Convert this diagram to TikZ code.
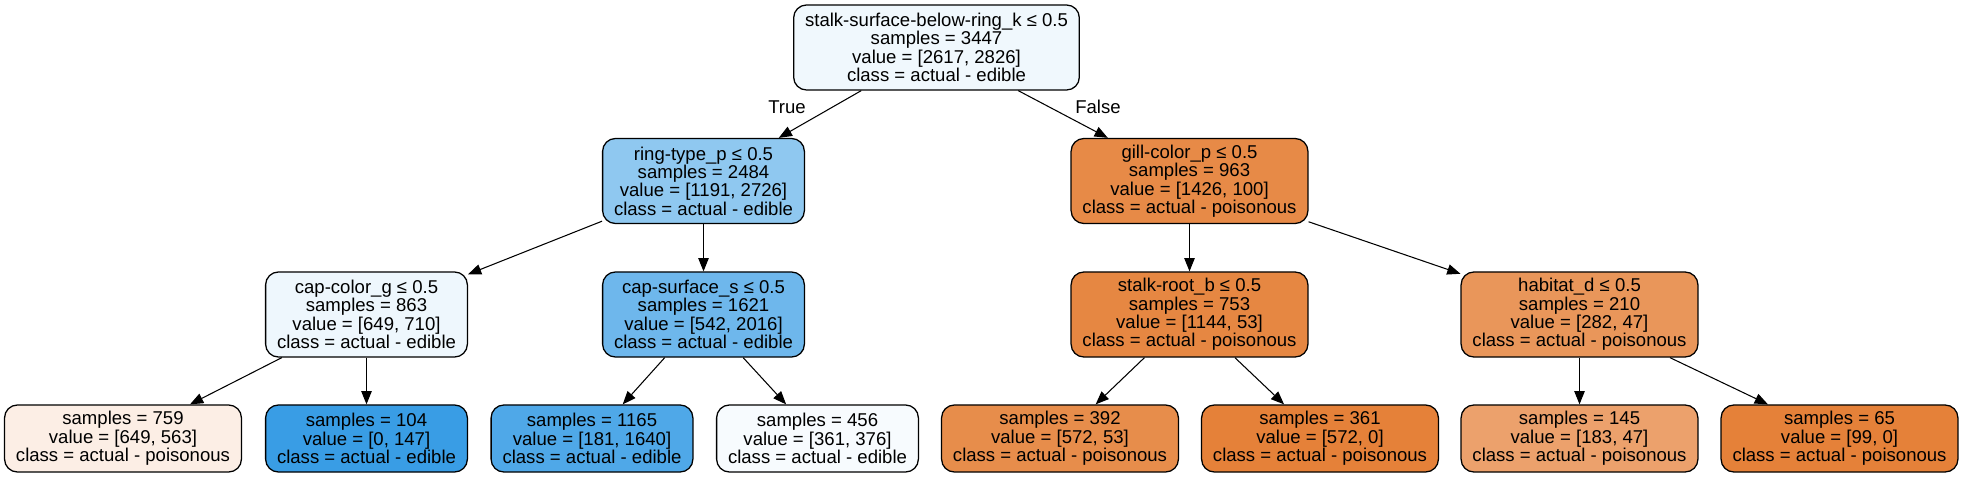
\documentclass[tikz,border=0pt]{standalone}
\usepackage{fontspec}
\setmainfont{Liberation Sans}
\usepackage{tikz}
\usetikzlibrary{positioning,arrows.meta}
\definecolor{rootfill}{RGB}{240,248,253}
\definecolor{ringfill}{RGB}{143,200,240}
\definecolor{gillfill}{RGB}{231,138,71}
\definecolor{capcolorfill}{RGB}{238,247,253}
\definecolor{capsurfacefill}{RGB}{110,183,236}
\definecolor{stalkrootfill}{RGB}{230,135,66}
\definecolor{habitatfill}{RGB}{233,150,90}
\definecolor{leafonefill}{RGB}{252,238,229}
\definecolor{leaftwofill}{RGB}{57,157,229}
\definecolor{leafthreefill}{RGB}{79,168,232}
\definecolor{leaffourfill}{RGB}{247,251,254}
\definecolor{leaffivefill}{RGB}{231,141,75}
\definecolor{leafsixfill}{RGB}{229,129,57}
\definecolor{leafsevenfill}{RGB}{236,161,108}
\definecolor{leafeightfill}{RGB}{229,129,57}
\tikzset {
split/.style={shape=rectangle,draw,rounded corners=3.2mm,line width=0.9pt,align=center,inner xsep=2.85mm,minimum height=21.25mm,font=\fontsize{13.2}{13.1}\selectfont},
leaf/.style={split,minimum height=16.75mm},
answer/.style={font=\fontsize{13.2}{13.1}\selectfont}
}

\begin{document}
\begin{tikzpicture}
[>={Triangle[length=3.3mm,width=2.6mm]},x=0.25mm,y=-0.25mm,line width=0.75pt]
\useasboundingbox (0,0) rectangle (1963,477);
\node[split,fill=rootfill] (root split) at (936.5,47.5) {stalk-surface-below-ring\_k ≤ 0.5\\samples = 3447\\value = [2617, 2826]\\class = actual - edible};
\node[split,fill=ringfill] (ring type split) at (703.5,181) {ring-type\_p ≤ 0.5\\samples = 2484\\value = [1191, 2726]\\class = actual - edible};
\node[split,fill=gillfill] (gill color split) at (1189.5,181) {gill-color\_p ≤ 0.5\\samples = 963\\value = [1426, 100]\\class = actual - poisonous};
\node[split,fill=capcolorfill] (cap color split) at (366.5,314.5) {cap-color\_g ≤ 0.5\\samples = 863\\value = [649, 710]\\class = actual - edible};
\node[split,fill=capsurfacefill] (cap surface split) at (703.5,314.5) {cap-surface\_s ≤ 0.5\\samples = 1621\\value = [542, 2016]\\class = actual - edible};
\node[split,fill=stalkrootfill] (stalk root split) at (1189.5,314.5) {stalk-root\_b ≤ 0.5\\samples = 753\\value = [1144, 53]\\class = actual - poisonous};
\node[split,fill=habitatfill] (habitat split) at (1579.5,314.5) {habitat\_d ≤ 0.5\\samples = 210\\value = [282, 47]\\class = actual - poisonous};
\node[leaf,fill=leafonefill] (leaf 759) at (123,438.5) {samples = 759\\value = [649, 563]\\class = actual - poisonous};
\node[leaf,fill=leaftwofill] (leaf 104) at (366.5,438.5) {samples = 104\\value = [0, 147]\\class = actual - edible};
\node[leaf,fill=leafthreefill] (leaf 1165) at (592,438.5) {samples = 1165\\value = [181, 1640]\\class = actual - edible};
\node[leaf,fill=leaffourfill] (leaf 456) at (817.5,438.5) {samples = 456\\value = [361, 376]\\class = actual - edible};
\node[leaf,fill=leaffivefill] (leaf 392) at (1060,438.5) {samples = 392\\value = [572, 53]\\class = actual - poisonous};
\node[leaf,fill=leafsixfill] (leaf 361) at (1320,438.5) {samples = 361\\value = [572, 0]\\class = actual - poisonous};
\node[leaf,fill=leafsevenfill] (leaf 145) at (1579.5,438.5) {samples = 145\\value = [183, 47]\\class = actual - poisonous};
\node[leaf,fill=leafeightfill] (leaf 65) at (1839.5,438.5) {samples = 65\\value = [99, 0]\\class = actual - poisonous};
\node[answer] (true label) at (787,107) {True};
\node[answer] (false label) at (1098,107) {False};

\draw[->] (root split) to (ring type split);
\draw[->] (root split) to (gill color split);
\draw[->] (ring type split) to (cap color split);
\draw[->] (ring type split) to (cap surface split);
\draw[->] (gill color split) to (stalk root split);
\draw[->] (gill color split) to (habitat split);
\draw[->] (cap color split) to (leaf 759);
\draw[->] (cap color split) to (leaf 104);
\draw[->] (cap surface split) to (leaf 1165);
\draw[->] (cap surface split) to (leaf 456);
\draw[->] (stalk root split) to (leaf 392);
\draw[->] (stalk root split) to (leaf 361);
\draw[->] (habitat split) to (leaf 145);
\draw[->] (habitat split) to (leaf 65);
\end{tikzpicture}
\end{document}
